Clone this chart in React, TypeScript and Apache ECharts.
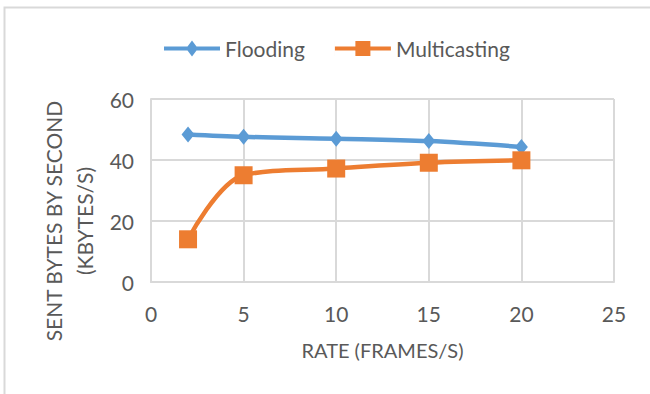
import React, { useEffect, useRef } from "react";
import * as echarts from "echarts";

// Frame rates on the x axis and the two measured series (KBytes/s)
const rates = [2, 5, 10, 15, 20];
const flooding = [48.4, 47.6, 47.0, 46.2, 44.3];
const multicasting = [14.0, 35.0, 37.2, 39.1, 39.9];
const seriesNames = ["Flooding", "Multicasting"];
const xTitle = "RATE (FRAMES/S)";
const yTitle = "SENT BYTES BY SECOND\n(KBYTES/S)";

const FONT = "Lato, 'Liberation Sans', sans-serif";
const TEXT = "#595959";
const GRID = "#d9d9d9";

// Legend keys: a thick line with the series marker on it (56 x 16 box)
const floodingKey = "path://M0 6H56V10H0Z M28 0L34 8L28 16L22 8Z";
const multicastingKey = "path://M0 6H56V10H0Z M20.5 0.5H35.5V15.5H20.5Z M0 0H0.01V16H0Z";

export default function App() {
  const ref = useRef<HTMLDivElement>(null);

  useEffect(() => {
    if (!ref.current) return;
    const chart = echarts.init(ref.current, undefined, { renderer: "svg" });
    const pairs = (ys: number[]) => rates.map((x, i) => [x, ys[i]]);

    chart.setOption({
      animation: false,
      backgroundColor: "#ffffff",
      textStyle: { fontFamily: FONT },
      graphic: [
        {
          type: "rect",
          shape: { x: 4.5, y: 7.5, width: 700, height: 420 },
          style: { fill: "none", stroke: GRID, lineWidth: 2 },
          silent: true,
        },
        {
          type: "text",
          x: 69,
          y: 221,
          rotation: Math.PI / 2,
          style: {
            text: yTitle,
            align: "center",
            verticalAlign: "middle",
            font: `21px ${FONT}`,
            fill: TEXT,
            lineHeight: 31,
          },
          silent: true,
        },
      ],
      legend: {
        left: 159,
        top: 33,
        itemWidth: 56,
        itemHeight: 16,
        itemGap: 30,
        textStyle: { fontSize: 21, color: TEXT, fontFamily: FONT },
        data: [
          { name: seriesNames[0], icon: floodingKey },
          { name: seriesNames[1], icon: multicastingKey },
        ],
      },
      grid: { left: 151, right: 36, top: 99, bottom: 112 },
      xAxis: {
        type: "value",
        min: 0,
        max: 25,
        interval: 5,
        name: xTitle,
        nameLocation: "middle",
        nameGap: 58,
        nameTextStyle: { fontSize: 20, color: TEXT, fontFamily: FONT },
        axisLine: { show: true, lineStyle: { color: GRID, width: 2 } },
        axisTick: { show: false },
        splitLine: { show: true, lineStyle: { color: GRID, width: 2 } },
        axisLabel: { fontSize: 21, color: TEXT, margin: 21, fontFamily: FONT },
      },
      yAxis: {
        type: "value",
        min: 0,
        max: 60,
        interval: 20,
        axisLine: { show: true, lineStyle: { color: GRID, width: 2 } },
        axisTick: { show: false },
        splitLine: { show: true, lineStyle: { color: GRID, width: 2 } },
        axisLabel: { fontSize: 21, color: TEXT, margin: 17, fontFamily: FONT },
      },
      series: [
        {
          name: seriesNames[0],
          type: "line",
          data: pairs(flooding),
          smooth: 0.35,
          symbol: "diamond",
          symbolSize: [13, 16],
          itemStyle: { color: "#5b9bd5" },
          lineStyle: { color: "#5b9bd5", width: 4.5 },
        },
        {
          name: seriesNames[1],
          type: "line",
          data: pairs(multicasting),
          smooth: 0.35,
          symbol: "rect",
          symbolSize: 18,
          itemStyle: { color: "#ed7d31" },
          lineStyle: { color: "#ed7d31", width: 4.5 },
        },
      ],
    });

    return () => chart.dispose();
  }, []);

  return (
    <div
      ref={ref}
      style={{ position: "fixed", left: 0, top: 0, width: 650, height: 394 }}
    />
  );
}
